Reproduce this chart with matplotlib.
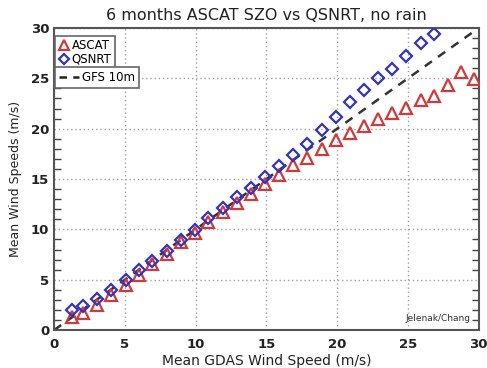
import matplotlib
matplotlib.use("Agg")
import matplotlib.pyplot as plt
from matplotlib.ticker import MultipleLocator
from matplotlib.lines import Line2D

# === DADOS ===
ascat_x = [1.25, 2.05, 3.0, 4.0, 5.05, 6.0, 6.95, 7.95, 9.0, 9.95,
           10.9, 11.9, 12.9, 13.9, 14.9, 15.9, 16.9, 17.9, 18.9, 19.9,
           20.9, 21.9, 22.85, 23.85, 24.85, 25.9, 26.85, 27.8, 28.75, 29.65]
ascat_y = [1.3, 1.7, 2.5, 3.5, 4.5, 5.5, 6.6, 7.6, 8.7, 9.6,
           10.7, 11.7, 12.6, 13.5, 14.5, 15.4, 16.4, 17.1, 18.0, 18.9,
           19.6, 20.3, 21.0, 21.6, 22.1, 22.8, 23.2, 24.3, 25.6, 24.9]

qsnrt_x = ascat_x[:27]
qsnrt_y = [2.0, 2.4, 3.1, 4.0, 5.0, 6.0, 6.9, 7.9, 8.9, 9.9,
           11.1, 12.1, 13.2, 14.1, 15.2, 16.3, 17.4, 18.5, 19.9, 21.2,
           22.6, 23.8, 25.0, 25.9, 27.2, 28.5, 29.4]

gfs_x = [0, 30]
gfs_y = [0, 30]

# === FIGURA ===
fig = plt.figure(figsize=(4.87, 3.68), dpi=100)
ax = fig.add_axes([0.111, 0.103, 0.872, 0.821])

ax.plot(gfs_x, gfs_y, ls=(0, (3.5, 3)), color='#333333', lw=1.8, zorder=2)
ax.plot(ascat_x, ascat_y, ls='none', marker='^', ms=8, mfc='none',
        mec='#d03a3a', mew=1.6, zorder=3)
ax.plot(qsnrt_x, qsnrt_y, ls='none', marker='D', ms=6, mfc='none',
        mec='#3333bb', mew=1.6, zorder=4)

ax.set_xlim(0, 30)
ax.set_ylim(0, 30)
ax.xaxis.set_major_locator(MultipleLocator(5))
ax.yaxis.set_major_locator(MultipleLocator(5))
ax.yaxis.set_minor_locator(MultipleLocator(1))
ax.tick_params(axis='y', which='both', direction='in', left=True, right=True,
               color='#444444')
ax.tick_params(axis='y', which='minor', length=5, width=1)
ax.tick_params(axis='y', which='major', length=0)
ax.tick_params(axis='x', which='both', length=0, pad=6)
ax.tick_params(labelsize=9.5, labelcolor='#222222')
for lab in ax.get_xticklabels() + ax.get_yticklabels():
    lab.set_fontweight('bold')

ax.grid(True, which='major', ls=(0, (1, 2)), color='#a0a0a0', lw=1)
for s in ax.spines.values():
    s.set_color('#555555')
    s.set_linewidth(1.5)

ax.set_title("6 months ASCAT SZO vs QSNRT, no rain", fontsize=11.5,
             color='#222222', pad=6)
ax.set_xlabel("Mean GDAS Wind Speed (m/s)", fontsize=10, color='#222222',
              labelpad=2)
ax.set_ylabel("Mean Wind Speeds (m/s)", fontsize=9, color='#222222',
              labelpad=6)

# legenda 1: marcadores
h1 = [Line2D([], [], ls='none', marker='^', ms=7, mfc='none', mec='#d03a3a', mew=1.6),
      Line2D([], [], ls='none', marker='D', ms=5, mfc='none', mec='#3333bb', mew=1.6)]
leg1 = ax.legend(h1, ['ASCAT', 'QSNRT'], loc='upper left',
                 bbox_to_anchor=(0.002, 0.975), fontsize=8.5, handlelength=0.9,
                 handletextpad=0.2, borderpad=0.3, labelspacing=0.05,
                 fancybox=False, edgecolor='#666666', framealpha=1,
                 borderaxespad=0)
leg1.get_frame().set_linewidth(1.2)
ax.add_artist(leg1)

# legenda 2: linha GFS
h2 = [Line2D([], [], ls=(0, (3, 2.5)), color='#222222', lw=1.8)]
leg2 = ax.legend(h2, ['GFS 10m'], loc='upper left',
                 bbox_to_anchor=(0.002, 0.872), fontsize=8.5, handlelength=1.7,
                 handletextpad=0.25, borderpad=0.35, fancybox=False,
                 edgecolor='#666666', framealpha=1, borderaxespad=0)
leg2.get_frame().set_linewidth(1.2)

ax.text(0.98, 0.025, "Jelenak/Chang", transform=ax.transAxes, ha='right',
        va='bottom', fontsize=6.5, color='#333333')

fig.savefig("out.png", dpi=100)
